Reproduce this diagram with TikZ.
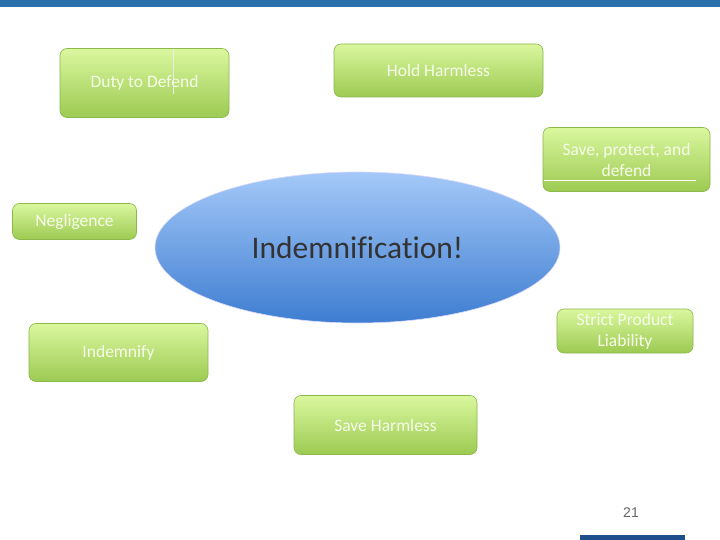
\documentclass[tikz,border=0pt]{standalone}
\usepackage{fontspec}
\setmainfont{Carlito}[Ligatures=NoCommon]
\newfontfamily\numfont{Liberation Sans}
\usetikzlibrary{shapes.geometric}
\definecolor{topbar}{HTML}{2A70AB}
\definecolor{botbar}{HTML}{1F4E8C}
\definecolor{gtop}{HTML}{DAF79E}
\definecolor{gbot}{HTML}{9CCA52}
\definecolor{gline}{HTML}{8CB84C}
\definecolor{btop}{HTML}{A4C9F8}
\definecolor{bbot}{HTML}{3E7DD1}
\definecolor{wtext}{HTML}{F6FBEA}
\tikzset{
  gbox/.style={draw=gline, line width=0.6pt, rounded corners=7pt,
    top color=gtop, bottom color=gbot, text=wtext, inner sep=0pt,
    align=center, font=\fontsize{17.5}{21}\selectfont}
}
\begin{document}
\begin{tikzpicture}[x=1pt,y=-1pt]
\useasboundingbox (0,0) rectangle (720,540);
\fill[white] (0,0) rectangle (720,540);
\fill[topbar] (0,0) rectangle (720,7.5);
\fill[botbar] (580,535) rectangle (685,540);

\node[ellipse, draw=white!85!blue, line width=0.6pt, top color=btop, bottom color=bbot,
  minimum width=405pt, minimum height=151pt, inner sep=0pt] (ind) at (357.5,247.5) {};
\node[text=black!80, font=\fontsize{31.5}{36}\selectfont] (indt) at (357.5,248) {Indemnification!};

\node[gbox, minimum width=169pt, minimum height=69pt] (duty) at (144.5,83) {Duty to Defend};
\draw[white!85!gray, line width=0.6pt] (173,49) -- (173,94);
\node[gbox, minimum width=209pt, minimum height=53pt] (hold) at (438.5,70.5) {Hold Harmless};
\node[gbox, minimum width=167pt, minimum height=64pt] (spd) at (626.5,159.5) {Save, protect, and\\defend};
\draw[white, line width=0.8pt] (544,180) -- (696,180);
\node[gbox, minimum width=124pt, minimum height=36pt] (neg) at (74.5,221.5) {Negligence};
\node[gbox, minimum width=136pt, minimum height=44pt] (spl) at (625,331) {Strict Product\\Liability};
\node[gbox, minimum width=179pt, minimum height=58pt] (indem) at (118.5,352.5) {Indemnify};
\node[gbox, minimum width=183pt, minimum height=59pt] (sh) at (385.5,425) {Save Harmless};

\node[text=black!60, font=\numfont\fontsize{14}{16}\selectfont] (pg) at (631,513) {21};
\end{tikzpicture}
\end{document}
